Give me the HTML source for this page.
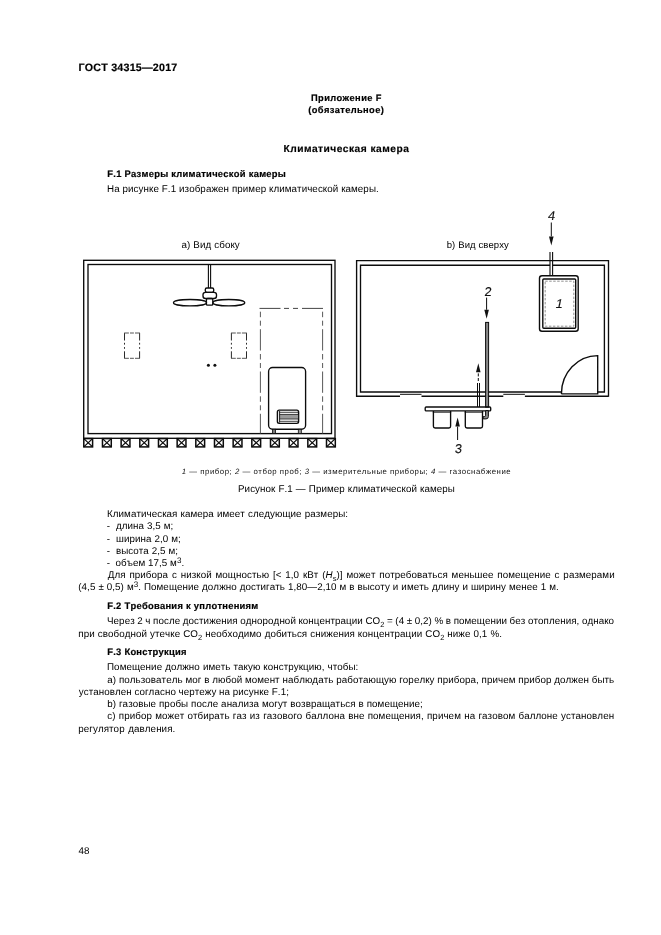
<!DOCTYPE html>
<html><head><meta charset="utf-8">
<style>
html,body{margin:0;padding:0;background:#fff;}
body{width:661px;height:935px;position:relative;overflow:hidden;font-family:"Liberation Sans",sans-serif;color:#000;text-rendering:geometricPrecision;font-kerning:none;}
.t{color:#000;}
.bd{-webkit-text-stroke:0.18px #000;}
#wrap{position:absolute;left:0;top:0;width:661px;height:935px;will-change:transform;filter:blur(0.3px);}
.t{position:absolute;white-space:nowrap;line-height:1;}
sub{font-size:7.5px;vertical-align:-3px;line-height:0;letter-spacing:0;}
sup{font-size:8px;vertical-align:3.5px;line-height:0;letter-spacing:0;}
svg{position:absolute;left:0;top:0;}
</style></head><body>
<div id="wrap">
<svg width="661" height="935" viewBox="0 0 661 935">
<g fill="none" stroke="#0c0c0c" stroke-width="1.35">
<rect x="83.7" y="260.3" width="251.3" height="178"/>
<rect x="88" y="264.5" width="243.5" height="169.1"/>
<rect x="83.80" y="438.6" width="8.8" height="8.3" stroke-width="1.5"/><path d="M83.80,438.6 l8.8,8.3 M92.60,438.6 l-8.8,8.3" stroke-width="1.3"/>
<rect x="102.47" y="438.6" width="8.8" height="8.3" stroke-width="1.5"/><path d="M102.47,438.6 l8.8,8.3 M111.27,438.6 l-8.8,8.3" stroke-width="1.3"/>
<rect x="121.14" y="438.6" width="8.8" height="8.3" stroke-width="1.5"/><path d="M121.14,438.6 l8.8,8.3 M129.94,438.6 l-8.8,8.3" stroke-width="1.3"/>
<rect x="139.81" y="438.6" width="8.8" height="8.3" stroke-width="1.5"/><path d="M139.81,438.6 l8.8,8.3 M148.61,438.6 l-8.8,8.3" stroke-width="1.3"/>
<rect x="158.48" y="438.6" width="8.8" height="8.3" stroke-width="1.5"/><path d="M158.48,438.6 l8.8,8.3 M167.28,438.6 l-8.8,8.3" stroke-width="1.3"/>
<rect x="177.15" y="438.6" width="8.8" height="8.3" stroke-width="1.5"/><path d="M177.15,438.6 l8.8,8.3 M185.95,438.6 l-8.8,8.3" stroke-width="1.3"/>
<rect x="195.82" y="438.6" width="8.8" height="8.3" stroke-width="1.5"/><path d="M195.82,438.6 l8.8,8.3 M204.62,438.6 l-8.8,8.3" stroke-width="1.3"/>
<rect x="214.49" y="438.6" width="8.8" height="8.3" stroke-width="1.5"/><path d="M214.49,438.6 l8.8,8.3 M223.29,438.6 l-8.8,8.3" stroke-width="1.3"/>
<rect x="233.16" y="438.6" width="8.8" height="8.3" stroke-width="1.5"/><path d="M233.16,438.6 l8.8,8.3 M241.96,438.6 l-8.8,8.3" stroke-width="1.3"/>
<rect x="251.83" y="438.6" width="8.8" height="8.3" stroke-width="1.5"/><path d="M251.83,438.6 l8.8,8.3 M260.63,438.6 l-8.8,8.3" stroke-width="1.3"/>
<rect x="270.50" y="438.6" width="8.8" height="8.3" stroke-width="1.5"/><path d="M270.50,438.6 l8.8,8.3 M279.30,438.6 l-8.8,8.3" stroke-width="1.3"/>
<rect x="289.17" y="438.6" width="8.8" height="8.3" stroke-width="1.5"/><path d="M289.17,438.6 l8.8,8.3 M297.97,438.6 l-8.8,8.3" stroke-width="1.3"/>
<rect x="307.84" y="438.6" width="8.8" height="8.3" stroke-width="1.5"/><path d="M307.84,438.6 l8.8,8.3 M316.64,438.6 l-8.8,8.3" stroke-width="1.3"/>
<rect x="326.51" y="438.6" width="8.8" height="8.3" stroke-width="1.5"/><path d="M326.51,438.6 l8.8,8.3 M335.31,438.6 l-8.8,8.3" stroke-width="1.3"/>
<path d="M208.4,264.5 V288 M210.6,264.5 V288" stroke-width="1.1"/>
<rect x="205.3" y="288" width="8.4" height="4.3" rx="1.5"/>
<rect x="203" y="292.3" width="13.5" height="6.2" rx="2.5"/>
<rect x="206.4" y="298.5" width="6.4" height="6.6" rx="1.2"/>
<ellipse cx="190" cy="302.7" rx="16.5" ry="3.2"/>
<ellipse cx="228.8" cy="302.7" rx="15.9" ry="3.2"/>
<g stroke="#2a2a2a" stroke-width="1">
<path d="M124.5,333 V358.3 M139.6,333 V358.3" stroke-dasharray="7.5,2.3,1.8,2.5,1.7,2.5,7.1,10"/>
<path d="M124.1,333 H140.0 M124.1,358.3 H140.0" stroke="#555" stroke-dasharray="4.8,1.1,3.9,1.1,5,10"/>
</g>
<g stroke="#2a2a2a" stroke-width="1">
<path d="M231.4,333 V358.3 M246.5,333 V358.3" stroke-dasharray="7.5,2.3,1.8,2.5,1.7,2.5,7.1,10"/>
<path d="M231.0,333 H246.9 M231.0,358.3 H246.9" stroke="#555" stroke-dasharray="4.8,1.1,3.9,1.1,5,10"/>
</g>
<g stroke="#3a3a3a" stroke-width="0.95">
<path d="M259.5,308.4 H323.1" stroke-dasharray="21,3.5,5,4,5,4,21,10"/>
<path d="M260.4,311.7 V433.6 M322.6,311.7 V433.6" stroke="#505050" stroke-dasharray="5.5,3.5,5,3.5,21.3,3.5"/>
</g>
<rect x="268.6" y="367.5" width="37" height="61.7" rx="4"/>
<rect x="277.4" y="410.1" width="21.2" height="13.3" rx="1.8" stroke-width="1.4"/>
<rect x="279.6" y="414.6" width="18.5" height="4.2" fill="#9a9a9a" stroke="none"/>
<path d="M279.6,412.3 H298 M279.6,414.4 H298 M279.6,419 H298 M279.6,421.3 H298" stroke-width="0.8"/>
<path d="M279.6,411 V422.6" stroke-width="0.9"/>
<rect x="272.4" y="429.3" width="3.2" height="4.2" fill="#777" stroke-width="0.8"/>
<rect x="298.3" y="429.3" width="3.0" height="4.2" fill="#999" stroke-width="0.8"/>
<path d="M608.5,396.2 H524.9 M503.3,396.2 H421.5 M400,396.2 H356.6 V260.6 H608.5 V396.7"/>
<path d="M400,394.3 H421.5 M503.3,394.3 H524.9" stroke-width="1"/>
<path d="M561.4,392.0 H360.5 V265.2 H550 M552.6,265.2 H604.4 V392.0 H597.7"/>
<path d="M561.4,393.9 H597.7 V355.6 A36.3,38.3 0 0 0 561.4,393.9"/>
<path d="M550,252 V276 M552.6,252 V276" stroke-width="1.1"/>
<path d="M551.3,222.5 V236.4" stroke-width="1.0"/>
<path d="M549.0,236.4 L551.3,245.4 L553.5999999999999,236.4 Z" fill="#111" stroke="none"/>
<rect x="539.5" y="275.7" width="38.7" height="55.6" rx="2.5" stroke-width="1.4"/>
<rect x="542.8" y="279" width="32.9" height="49.3" rx="1" stroke-width="1.4"/>
<rect x="545.2" y="281.2" width="28.6" height="45" stroke="#777" stroke-width="0.8" stroke-dasharray="2.5,1.5"/>
<path d="M486.6,297.6 V309.8" stroke-width="1.0"/>
<path d="M484.3,309.8 L486.6,318.8 L488.90000000000003,309.8 Z" fill="#111" stroke="none"/>
<rect x="485.6" y="322.4" width="3" height="84.7" fill="#8a8a8a" stroke-width="1"/>
<path d="M478.3,381 V372.3" stroke-width="1.0" stroke-dasharray="3,1.6"/>
<path d="M476.0,372.3 L478.3,363.3 L480.6,372.3 Z" fill="#111" stroke="none"/>
<path d="M477.5,383 V407 M479.5,383 V407" stroke-width="1"/>
<rect x="425.2" y="407" width="65.5" height="3.9" rx="1"/>
<path d="M433.40000000000003,411 V426.3 Q433.40000000000003,428 435.1,428 H448.9 Q450.59999999999997,428 450.59999999999997,426.3 V411"/>
<path d="M432.8,412.2 H451.2" stroke-width="0.9"/>
<path d="M465.3,411 V426.3 Q465.3,428 467.0,428 H480.8 Q482.5,428 482.5,426.3 V411"/>
<path d="M464.7,412.2 H483.1" stroke-width="0.9"/>
<path d="M483.2,418.9 H486 Q488.4,418.9 488.4,416.5 V410.6 H485.6 V415.3 Q485.6,416.6 484.3,416.6 H483.2 Z" fill="#8a8a8a" stroke-width="1"/>
<path d="M457.6,440 V426.6" stroke-width="1.0"/>
<path d="M455.3,426.6 L457.6,417.6 L459.90000000000003,426.6 Z" fill="#111" stroke="none"/>
</g>
<g fill="#111" stroke="none"><circle cx="208.4" cy="365.3" r="1.5"/><circle cx="214.9" cy="365.3" r="1.5"/></g>
<g font-family="Liberation Sans" font-size="12.8" fill="#111" stroke="#111" stroke-width="0.15">
<text transform="translate(547.6,219.8) skewX(-9)" x="0" y="0">4</text>
<text transform="translate(484.3,296.0) skewX(-5)" x="0" y="0">2</text>
<text transform="translate(555.0,308.3) skewX(-12)" x="0" y="0">1</text>
<text transform="translate(454.6,453.2) skewX(-6)" x="0" y="0">3</text>
</g></svg>
<div class="t bd" id="l0" style="left:78.50px;top:63px;transform:translateY(0.25px);font-size:10.7px;font-weight:bold;letter-spacing:0.214px;">ГОСТ 34315—2017</div>
<div class="t bd" id="l1" style="left:311.00px;top:94px;transform:translateY(0.05px);font-size:9.3px;font-weight:bold;letter-spacing:0.386px;">Приложение F</div>
<div class="t bd" id="l2" style="left:308.25px;top:106px;transform:translateY(0.35px);font-size:9.3px;font-weight:bold;letter-spacing:0.377px;">(обязательное)</div>
<div class="t bd" id="l3" style="left:283.50px;top:145px;transform:translateY(0.25px);font-size:10.2px;font-weight:bold;letter-spacing:0.487px;">Климатическая камера</div>
<div class="t bd" id="l4" style="left:107.25px;top:168px;transform:translateY(0.95px);font-size:9.4px;font-weight:bold;letter-spacing:0.274px;">F.1 Размеры климатической камеры</div>
<div class="t" id="l5" style="left:107.00px;top:185px;transform:translateY(0.15px);font-size:9.8px;letter-spacing:0.070px;word-spacing:0.100px;">На рисунке F.1 изображен пример климатической камеры.</div>
<div class="t" id="l6" style="left:181.50px;top:241px;transform:translateY(0.05px);font-size:9.8px;letter-spacing:0.070px;word-spacing:0.225px;">а) Вид сбоку</div>
<div class="t" id="l7" style="left:446.75px;top:241px;transform:translateY(0.05px);font-size:9.5px;letter-spacing:0.070px;word-spacing:0.175px;">b) Вид сверху</div>
<div class="t" id="l8" style="left:181.75px;top:468px;transform:translateY(0.45px);font-size:7.8px;letter-spacing:0.550px;word-spacing:-0.096px;-webkit-text-stroke:0;color:#111;"><i>1</i> — прибор; <i>2</i> — отбор проб; <i>3</i> — измерительные приборы; <i>4</i> — газоснабжение</div>
<div class="t" id="l9" style="left:238.00px;top:485px;transform:translateY(0.05px);font-size:9.8px;letter-spacing:0.070px;word-spacing:0.240px;">Рисунок F.1 — Пример климатической камеры</div>
<div class="t" id="l10" style="left:107.00px;top:509px;transform:translateY(0.90px);font-size:9.8px;letter-spacing:0.070px;word-spacing:0.325px;">Климатическая камера имеет следующие размеры:</div>
<div class="t" id="l11" style="left:106.75px;top:522px;transform:translateY(0.41px);font-size:9.8px;letter-spacing:0.070px;word-spacing:0.112px;">-&nbsp; длина 3,5 м;</div>
<div class="t" id="l12" style="left:106.75px;top:534px;transform:translateY(0.92px);font-size:9.8px;letter-spacing:0.070px;word-spacing:0.162px;">-&nbsp; ширина 2,0 м;</div>
<div class="t" id="l13" style="left:106.75px;top:546px;transform:translateY(0.95px);font-size:9.8px;letter-spacing:0.070px;word-spacing:0.112px;">-&nbsp; высота 2,5 м;</div>
<div class="t" id="l14" style="left:106.75px;top:559px;transform:translateY(0.45px);font-size:9.8px;letter-spacing:0.070px;word-spacing:-0.050px;">-&nbsp; объем 17,5 м<sup>3</sup>.</div>
<div class="t" id="l15" style="left:107.75px;top:570px;transform:translateY(0.55px);font-size:9.8px;letter-spacing:0.070px;word-spacing:1.018px;">Для прибора с низкой мощностью [&lt; 1,0 кВт (<i>H</i><sub>s</sub>)] может потребоваться меньшее помещение с размерами</div>
<div class="t" id="l16" style="left:78.25px;top:583px;transform:translateY(0.05px);font-size:9.8px;letter-spacing:0.070px;word-spacing:0.172px;">(4,5 ± 0,5) м<sup>3</sup>. Помещение должно достигать 1,80—2,10 м в высоту и иметь длину и ширину менее 1 м.</div>
<div class="t bd" id="l17" style="left:107.25px;top:601px;transform:translateY(0.00px);font-size:9.4px;font-weight:bold;letter-spacing:0.261px;">F.2 Требования к уплотнениям</div>
<div class="t" id="l18" style="left:107.00px;top:616px;transform:translateY(0.75px);font-size:9.8px;letter-spacing:0.070px;word-spacing:-0.238px;">Через 2 ч после достижения однородной концентрации CO<sub>2</sub> = (4 ± 0,2) % в помещении без отопления, однако</div>
<div class="t" id="l19" style="left:78.25px;top:630px;transform:translateY(0.25px);font-size:9.8px;letter-spacing:0.070px;word-spacing:0.250px;">при свободной утечке CO<sub>2</sub> необходимо добиться снижения концентрации CO<sub>2</sub> ниже 0,1 %.</div>
<div class="t bd" id="l20" style="left:107.25px;top:646px;transform:translateY(0.95px);font-size:9.4px;font-weight:bold;letter-spacing:0.254px;">F.3 Конструкция</div>
<div class="t" id="l21" style="left:107.00px;top:663px;transform:translateY(0.35px);font-size:9.8px;letter-spacing:0.070px;word-spacing:0.220px;">Помещение должно иметь такую конструкцию, чтобы:</div>
<div class="t" id="l22" style="left:107.25px;top:676px;transform:translateY(0.05px);font-size:9.8px;letter-spacing:0.070px;word-spacing:-0.004px;">а) пользователь мог в любой момент наблюдать работающую горелку прибора, причем прибор должен быть</div>
<div class="t" id="l23" style="left:78.75px;top:688px;transform:translateY(0.35px);font-size:9.8px;letter-spacing:0.070px;word-spacing:-0.120px;">установлен согласно чертежу на рисунке F.1;</div>
<div class="t" id="l24" style="left:107.25px;top:700px;transform:translateY(0.15px);font-size:9.8px;letter-spacing:0.070px;word-spacing:0.081px;">b) газовые пробы после анализа могут возвращаться в помещение;</div>
<div class="t" id="l25" style="left:107.25px;top:711px;transform:translateY(0.95px);font-size:9.8px;letter-spacing:0.070px;word-spacing:0.464px;">с) прибор может отбирать газ из газового баллона вне помещения, причем на газовом баллоне установлен</div>
<div class="t" id="l26" style="left:78.25px;top:724px;transform:translateY(0.75px);font-size:9.8px;letter-spacing:0.070px;word-spacing:0.800px;">регулятор давления.</div>
<div class="t" id="l27" style="left:78.50px;top:846px;transform:translateY(0.75px);font-size:9.8px;letter-spacing:0.070px;">48</div>
</div>
</body></html>
